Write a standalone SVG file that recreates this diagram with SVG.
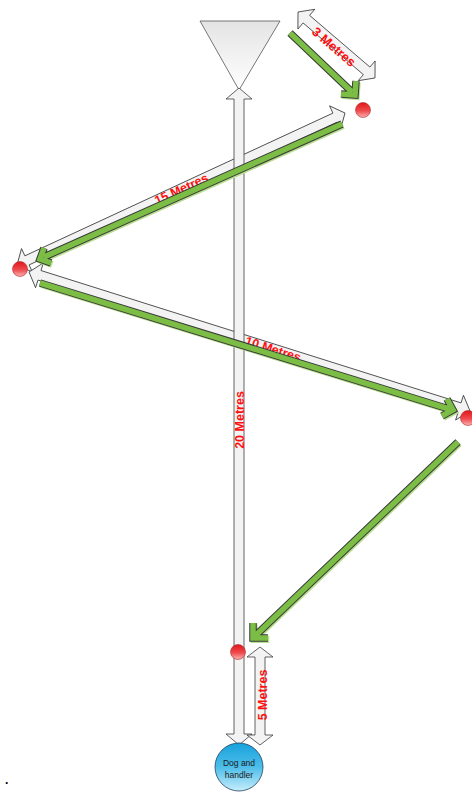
<svg xmlns="http://www.w3.org/2000/svg" width="472" height="792" viewBox="0 0 472 792">
<defs>
<linearGradient id="gFunnel" x1="0" y1="0" x2="0" y2="1"><stop offset="0" stop-color="#e4e4e4"/><stop offset="1" stop-color="#ffffff"/></linearGradient>
<linearGradient id="gRed" x1="0" y1="0" x2="0" y2="1"><stop offset="0" stop-color="#e0161c"/><stop offset="0.55" stop-color="#ef4a4c"/><stop offset="1" stop-color="#fab4b4"/></linearGradient>
<linearGradient id="gBlue" x1="0" y1="0" x2="0" y2="1"><stop offset="0" stop-color="#18a2dd"/><stop offset="0.5" stop-color="#4dbde9"/><stop offset="1" stop-color="#c6eefb"/></linearGradient>
</defs>
<style>
.wa{fill:#f3f3f3;stroke:#3c3c3c;stroke-width:0.8;stroke-linejoin:miter}
.lbl{font-family:"Liberation Sans",Arial,sans-serif;font-weight:bold;font-size:12.5px;fill:#ff1010;text-anchor:middle}
.gs{fill:none;stroke:#b8de90;stroke-width:7;stroke-linejoin:miter}
.go{fill:none;stroke:#3a3a3a;stroke-width:7.5;stroke-linejoin:miter}
.gi{fill:none;stroke:#7cbd45;stroke-width:5.5;stroke-linejoin:miter}
.dot{fill:url(#gRed);stroke:#b02a2a;stroke-width:0.6}
</style>
<g id="funnel"><polygon points="200,21 280,21 239,90" fill="url(#gFunnel)" stroke="#555" stroke-width="0.8"/></g>
<g id="connectors">
<path class="wa" transform="translate(17,265) rotate(-24.86)" d="M0,0 L11,-13 L11,-5 L350.5,-5 L350.5,-13 L361.5,0 L350.5,13 L350.5,5 L11,5 L11,13 Z"/>
<path class="wa" transform="translate(29,272) rotate(17.49)" d="M0,0 L11,-13 L11,-5 L451.4,-5 L451.4,-13 L462.4,0 L451.4,13 L451.4,5 L11,5 L11,13 Z"/>
<path class="wa" transform="translate(298,12) rotate(40.6)" d="M0,0 L11,-13 L11,-5 L90.4,-5 L90.4,-13 L101.4,0 L90.4,13 L90.4,5 L11,5 L11,13 Z"/>
<path class="wa" d="M239,88 L252,99 L244,99 L244,734 L252,734 L239,745 L226,734 L234,734 L234,99 L226,99 Z"/>
<path class="wa" d="M260,647 L273,657 L265,657 L265,735 L273,735 L260,745 L247,735 L255,735 L255,657 L247,657 Z"/>
<text class="lbl" transform="translate(298,12) rotate(40.6)" x="50" y="3" dy="0.35em" style="font-size:13px">3 Metres</text>
<text class="lbl" transform="translate(17,265) rotate(-24.86)" x="181" y="0" dy="0.35em">15 Metres</text>
<text class="lbl" transform="translate(29,272) rotate(17.49)" x="256" y="0" dy="0.35em">10 Metres</text>
<text class="lbl" transform="translate(240,420) rotate(-90)" x="0" y="0" dy="0.35em">20 Metres</text>
<text class="lbl" transform="translate(263,695) rotate(-90)" x="0" y="0" dy="0.35em">5 Metres</text>
<g id="green1"><path class="gs" transform="translate(1.2,1.5)" d="M290,33 L352,92 M356,81 L355,95 L341,94"/><path class="go" d="M290,33 L352,92 M356,81 L355,95 L341,94"/><path class="gi" d="M290,33 L352,92 M356,81 L355,95 L341,94"/></g>
<g id="green2"><path class="gs" transform="translate(1.2,1.5)" d="M342,124 L44,257 M44,248 L40,259 L51,263"/><path class="go" d="M342,124 L44,257 M44,248 L40,259 L51,263"/><path class="gi" d="M342,124 L44,257 M44,248 L40,259 L51,263"/></g>
<g id="green3"><path class="gs" transform="translate(1.2,1.5)" d="M40,283 L449,409 M447,399 L453,410 L442,416"/><path class="go" d="M40,283 L449,409 M447,399 L453,410 L442,416"/><path class="gi" d="M40,283 L449,409 M447,399 L453,410 L442,416"/></g>
<g id="green4"><path class="gs" transform="translate(1.2,1.5)" d="M458,442 L256,635 M253,623 L253,638 L268,638"/><path class="go" d="M458,442 L256,635 M253,623 L253,638 L268,638"/><path class="gi" d="M458,442 L256,635 M253,623 L253,638 L268,638"/></g>
</g>
<g id="point1"><circle class="dot" cx="363" cy="110" r="7.5"/></g>
<g id="point2"><circle class="dot" cx="20" cy="269" r="7.5"/></g>
<g id="point3"><circle class="dot" cx="468" cy="418" r="7.5"/></g>
<g id="point4"><circle class="dot" cx="238" cy="652" r="7.5"/></g>
<g id="dog"><circle cx="239" cy="767" r="24" fill="url(#gBlue)" stroke="#24415f" stroke-width="0.8"/>
<text x="239" y="766" font-family="'Liberation Sans',Arial,sans-serif" font-size="8.5" fill="#1a1a1a" text-anchor="middle">Dog and</text>
<text x="239" y="778" font-family="'Liberation Sans',Arial,sans-serif" font-size="8.5" fill="#1a1a1a" text-anchor="middle">handler</text></g>
<text x="5" y="784" font-family="'Liberation Sans',Arial,sans-serif" font-size="12" font-weight="bold" fill="#000">.</text>
</svg>
